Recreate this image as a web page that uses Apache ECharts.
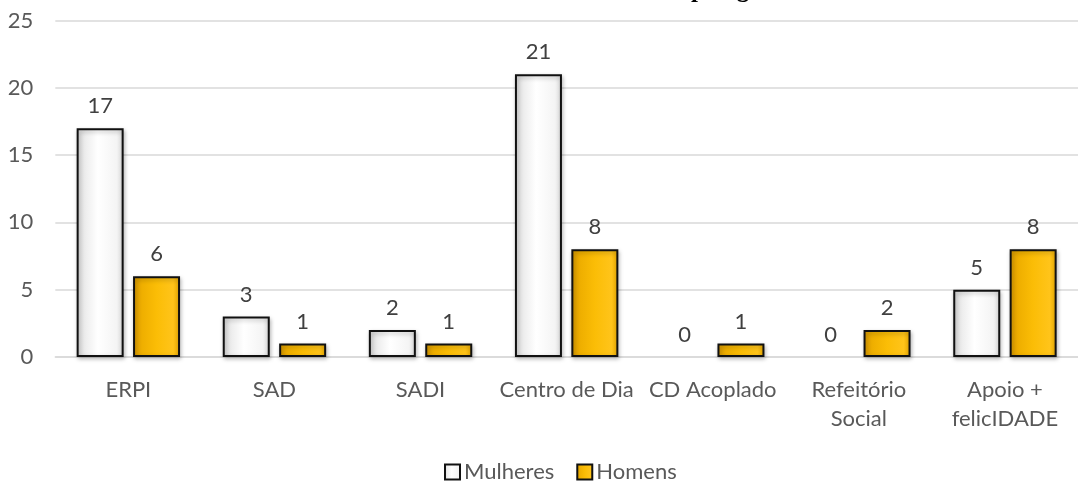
<!DOCTYPE html>
<html>
<head>
<meta charset="utf-8">
<script src="https://cdn.jsdelivr.net/npm/echarts@6/dist/echarts.min.js"></script>
<style>
  html, body { margin: 0; padding: 0; background: #fff; }
  #chart1 { width: 1078px; height: 481px; }
</style>
</head>
<body>
<!-- chart container -->
<div id="chart1"></div>
<script>
const categories = ["ERPI", "SAD", "SADI", "Centro de Dia", "CD Acoplado", "Refeitório\nSocial", "Apoio +\nfelicIDADE"];
const mulheres = [17, 3, 2, 21, 0, 0, 5];
const homens = [6, 1, 1, 8, 1, 2, 8];
const yTicks = { min: 0, max: 25, interval: 5 };

const labelFont = "Lato, 'Noto Sans', sans-serif";

// zero values: keep the label, hide the flat outline
function toItems(arr) {
  return arr.map((v) => (v === 0 ? { value: v, itemStyle: { borderWidth: 0, shadowBlur: 0, shadowOffsetY: 0 } } : v));
}

const myChart1 = echarts.init(document.getElementById("chart1"));
myChart1.setOption({
  animation: false,
  // title is cut off at the top of the picture, only descenders show
  title: {
    text: "Número de Utentes em cada Tipologia",
    left: 362,
    top: -21.5,
    padding: 0,
    textStyle: {
      fontFamily: "'Liberation Serif', serif",
      fontWeight: "bold",
      fontSize: 25,
      color: "#000",
    },
  },
  grid: {
    top: 20.5,
    left: 55.3,
    right: -15.4,
    bottom: 124,
  },
  legend: {
    left: 444,
    top: 461,
    padding: 0,
    itemWidth: 15,
    itemHeight: 15,
    itemGap: 22,
    icon: "rect",
    textStyle: { color: "#595959", fontSize: 22, fontFamily: labelFont, padding: [0, 0, 0, -1] },
    data: ["Mulheres", "Homens"],
  },
  xAxis: {
    type: "category",
    data: categories,
    axisLine: { lineStyle: { color: "#d9d9d9", width: 1.5 } },
    axisTick: { show: false },
    axisLabel: {
      color: "#595959",
      fontSize: 22,
      fontFamily: labelFont,
      lineHeight: 29,
      margin: 18,
      interval: 0,
    },
  },
  yAxis: {
    type: "value",
    min: yTicks.min,
    max: yTicks.max,
    interval: yTicks.interval,
    axisLine: { show: false },
    axisTick: { show: false },
    splitLine: { lineStyle: { color: "#d9d9d9", width: 1.5 } },
    axisLabel: {
      color: "#595959",
      fontSize: 22,
      fontFamily: labelFont,
      margin: 22,
    },
  },
  series: [
    {
      name: "Mulheres",
      type: "bar",
      data: toItems(mulheres),
      barWidth: 47,
      barGap: "20%",
      itemStyle: {
        borderColor: "#111",
        borderWidth: 2,
        shadowColor: "rgba(0,0,0,0.25)",
        shadowBlur: 4,
        shadowOffsetX: 1,
        shadowOffsetY: 2,
        color: {
          type: "linear", x: 0, y: 0, x2: 1, y2: 0,
          colorStops: [
            { offset: 0, color: "#d6d6d6" },
            { offset: 0.2, color: "#eeeeee" },
            { offset: 0.45, color: "#ffffff" },
            { offset: 0.85, color: "#f4f4f4" },
            { offset: 1, color: "#dcdcdc" },
          ],
        },
      },
      label: {
        show: true,
        position: "top",
        distance: 11,
        color: "#404040",
        fontSize: 22,
        fontFamily: labelFont,
      },
    },
    {
      name: "Homens",
      type: "bar",
      data: toItems(homens),
      barWidth: 47,
      itemStyle: {
        borderColor: "#111",
        borderWidth: 2,
        shadowColor: "rgba(0,0,0,0.25)",
        shadowBlur: 4,
        shadowOffsetX: 1,
        shadowOffsetY: 2,
        color: {
          type: "linear", x: 0, y: 0, x2: 1, y2: 0,
          colorStops: [
            { offset: 0, color: "#d99a00" },
            { offset: 0.2, color: "#efaf00" },
            { offset: 0.5, color: "#fbbd06" },
            { offset: 0.85, color: "#ffc41a" },
            { offset: 1, color: "#e9a900" },
          ],
        },
      },
      label: {
        show: true,
        position: "top",
        distance: 11,
        color: "#404040",
        fontSize: 22,
        fontFamily: labelFont,
      },
    },
  ],
});
</script>
</body>
</html>
